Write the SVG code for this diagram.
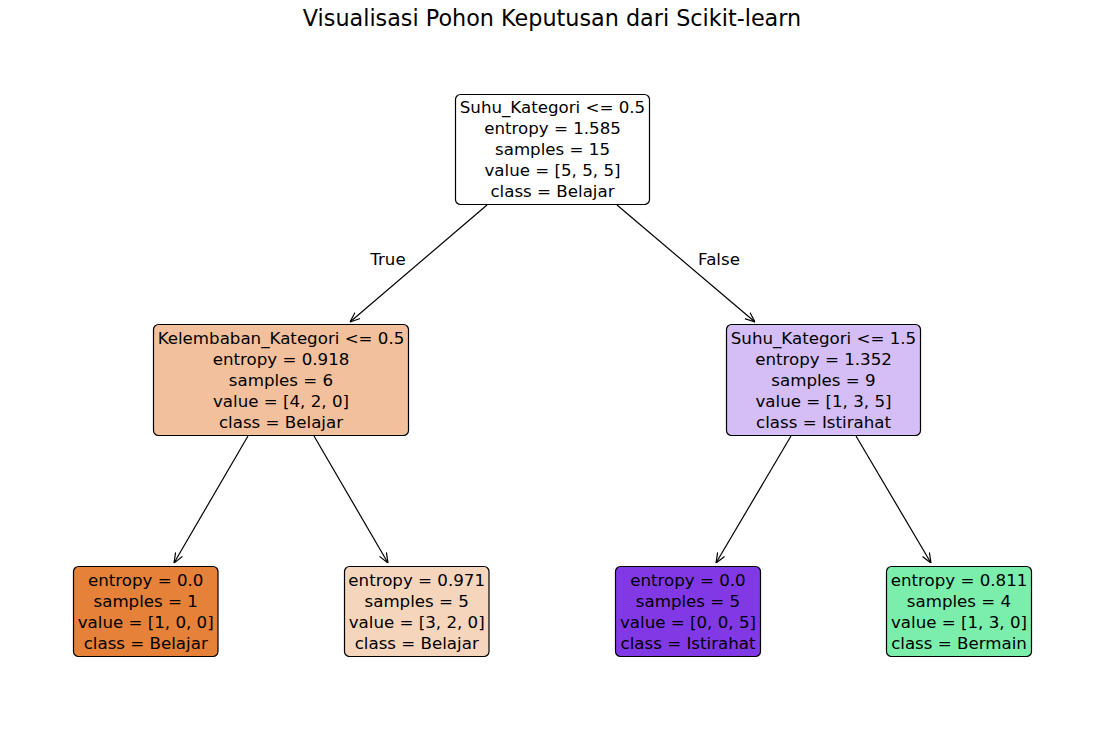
<svg xmlns="http://www.w3.org/2000/svg" width="1105" height="737" viewBox="0 0 1105 737">
<style>
text{font-family:"DejaVu Sans",sans-serif;fill:#000}
.t{font-size:16.67px;text-anchor:middle}
.title{font-size:22.3px;text-anchor:middle}
.box{stroke:#000;stroke-width:1.2}
.edge{stroke:#000;stroke-width:1.2;fill:none}
</style>
<defs>
<marker id="arr" viewBox="0 0 10 10" refX="10" refY="5" markerWidth="10" markerHeight="10" markerUnits="userSpaceOnUse" orient="auto">
<polyline points="0,1 10,5 0,9" fill="none" stroke="#000" stroke-width="1.2"/>
</marker>
</defs>
<rect width="1105" height="737" fill="#fff"/>
<text class="title" x="552" y="26">Visualisasi Pohon Keputusan dari Scikit-learn</text>
<g id="connectors">
<line class="edge" x1="487" y1="205" x2="350" y2="322" marker-end="url(#arr)"/>
<line class="edge" x1="617" y1="205" x2="755" y2="322" marker-end="url(#arr)"/>
<line class="edge" x1="248" y1="436" x2="174" y2="563" marker-end="url(#arr)"/>
<line class="edge" x1="314" y1="436" x2="388" y2="563" marker-end="url(#arr)"/>
<line class="edge" x1="791" y1="436" x2="716" y2="563" marker-end="url(#arr)"/>
<line class="edge" x1="856" y1="436" x2="931" y2="563" marker-end="url(#arr)"/>
<text class="t" x="388" y="265">True</text>
<text class="t" x="719" y="265">False</text>
</g>
<g id="node0">
<rect class="box" x="455.5" y="94.5" width="194" height="110" rx="5" fill="#ffffff"/>
<text class="t" x="552.5" y="113">Suhu_Kategori &lt;= 0.5</text>
<text class="t" x="552.5" y="134">entropy = 1.585</text>
<text class="t" x="552.5" y="155">samples = 15</text>
<text class="t" x="552.5" y="176">value = [5, 5, 5]</text>
<text class="t" x="552.5" y="197">class = Belajar</text>
</g>
<g id="node1">
<rect class="box" x="153.5" y="324.5" width="255" height="111" rx="5" fill="#f2c09c"/>
<text class="t" x="281" y="344">Kelembaban_Kategori &lt;= 0.5</text>
<text class="t" x="281" y="365">entropy = 0.918</text>
<text class="t" x="281" y="386">samples = 6</text>
<text class="t" x="281" y="407">value = [4, 2, 0]</text>
<text class="t" x="281" y="428">class = Belajar</text>
</g>
<g id="node4">
<rect class="box" x="726.5" y="324.5" width="194" height="111" rx="5" fill="#d5bdf6"/>
<text class="t" x="823.5" y="344">Suhu_Kategori &lt;= 1.5</text>
<text class="t" x="823.5" y="365">entropy = 1.352</text>
<text class="t" x="823.5" y="386">samples = 9</text>
<text class="t" x="823.5" y="407">value = [1, 3, 5]</text>
<text class="t" x="823.5" y="428">class = Istirahat</text>
</g>
<g id="node2">
<rect class="box" x="73.5" y="566.5" width="144.5" height="90" rx="5" fill="#e58139"/>
<text class="t" x="145.7" y="586">entropy = 0.0</text>
<text class="t" x="145.7" y="607">samples = 1</text>
<text class="t" x="145.7" y="628">value = [1, 0, 0]</text>
<text class="t" x="145.7" y="648.5">class = Belajar</text>
</g>
<g id="node3">
<rect class="box" x="344.5" y="566.5" width="144.5" height="90" rx="5" fill="#f6d5bd"/>
<text class="t" x="416.7" y="586">entropy = 0.971</text>
<text class="t" x="416.7" y="607">samples = 5</text>
<text class="t" x="416.7" y="628">value = [3, 2, 0]</text>
<text class="t" x="416.7" y="648.5">class = Belajar</text>
</g>
<g id="node5">
<rect class="box" x="615.5" y="566.5" width="145" height="90" rx="5" fill="#8139e5"/>
<text class="t" x="688" y="586">entropy = 0.0</text>
<text class="t" x="688" y="607">samples = 5</text>
<text class="t" x="688" y="628">value = [0, 0, 5]</text>
<text class="t" x="688" y="648.5">class = Istirahat</text>
</g>
<g id="node6">
<rect class="box" x="886.5" y="566.5" width="145" height="90" rx="5" fill="#7beeab"/>
<text class="t" x="959" y="586">entropy = 0.811</text>
<text class="t" x="959" y="607">samples = 4</text>
<text class="t" x="959" y="628">value = [1, 3, 0]</text>
<text class="t" x="959" y="648.5">class = Bermain</text>
</g>
</svg>
